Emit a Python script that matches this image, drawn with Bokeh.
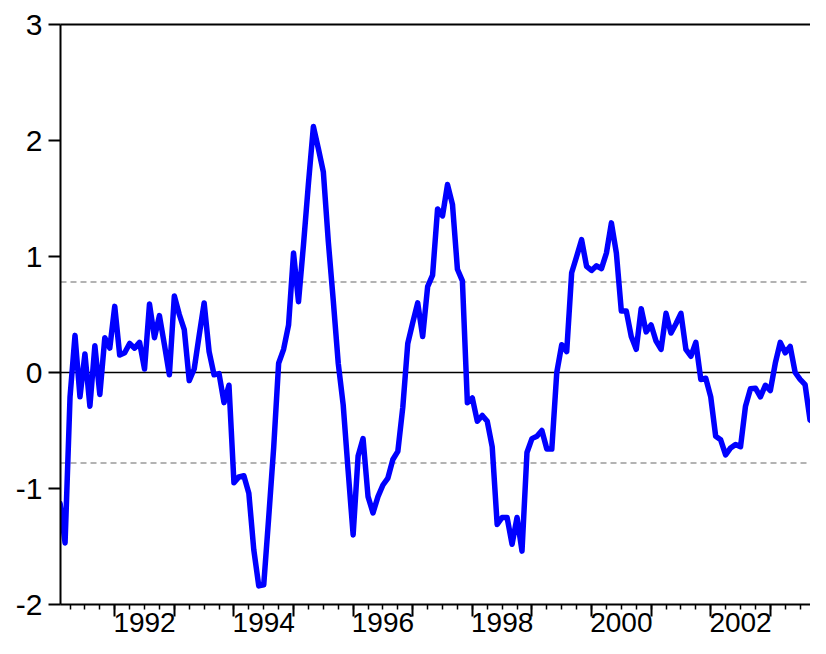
from bokeh.plotting import figure
from bokeh.models import LinearAxis, FixedTicker, Range1d, Span, CustomJSTickFormatter
from bokeh.embed import file_html
from bokeh.resources import INLINE

# monthly series, first observation Feb 1991
start_year = 1991
start_month = 2
values = [
    -1.13, -1.47, -0.21, 0.32, -0.21, 0.16, -0.29, 0.23, -0.19, 0.30,
    0.21, 0.57, 0.15, 0.17, 0.25, 0.21, 0.26, 0.03, 0.59, 0.30,
    0.49, 0.24, -0.02, 0.66, 0.50, 0.37, -0.07, 0.03, 0.32, 0.60,
    0.18, -0.02, -0.01, -0.26, -0.11, -0.95, -0.90, -0.89, -1.04, -1.53,
    -1.84, -1.83, -1.25, -0.65, 0.08, 0.20, 0.41, 1.03, 0.61, 1.10,
    1.63, 2.12, 1.93, 1.73, 1.13, 0.62, 0.08, -0.28, -0.85, -1.40,
    -0.72, -0.57, -1.07, -1.21, -1.07, -0.97, -0.91, -0.75, -0.68, -0.30,
    0.25, 0.43, 0.60, 0.31, 0.74, 0.84, 1.41, 1.35, 1.62, 1.45,
    0.89, 0.79, -0.26, -0.22, -0.42, -0.37, -0.42, -0.64, -1.31, -1.25,
    -1.25, -1.48, -1.25, -1.54, -0.69, -0.57, -0.55, -0.50, -0.66, -0.66,
    0.00, 0.24, 0.18, 0.86, 1.00, 1.145, 0.915, 0.88, 0.92, 0.895,
    1.03, 1.29, 1.03, 0.53, 0.53, 0.31, 0.20, 0.55, 0.35, 0.41,
    0.27, 0.20, 0.51, 0.34, 0.42, 0.51, 0.20, 0.14, 0.26, -0.06,
    -0.05, -0.21, -0.55, -0.58, -0.71, -0.65, -0.62, -0.64, -0.29, -0.14,
    -0.135, -0.21, -0.11, -0.155, 0.08, 0.26, 0.17, 0.225, 0.00, -0.06,
    -0.105, -0.41, -0.44, -0.28, -0.22, -0.55,
]
band = 0.78
label_years = [1992, 1994, 1996, 1998, 2000, 2002]
y_ticks = [-2, -1, 0, 1, 2, 3]

t = [start_year + (start_month - 1 + i) / 12 for i in range(len(values))]

font = "Liberation Sans"

p = figure(width=810, height=638, output_backend="svg", toolbar_location=None,
           x_range=Range1d(1991.09, 2003.674), y_range=Range1d(-2, 3),
           x_axis_type=None, y_axis_type=None,
           min_border_left=60, min_border_top=24, min_border_right=0, min_border_bottom=34)
p.outline_line_color = None
p.xgrid.visible = False
p.ygrid.visible = False
p.background_fill_color = "white"
p.border_fill_color = "white"

# y axis
yax = LinearAxis(ticker=FixedTicker(ticks=y_ticks),
                 formatter=CustomJSTickFormatter(code="return tick.toString()"),
                 major_tick_out=12, major_tick_in=0,
                 minor_tick_out=0, minor_tick_in=0, axis_line_width=2, major_tick_line_width=2,
                 major_label_standoff=6, major_label_text_font=font,
                 major_label_text_font_size="30px", major_label_text_color="black")
p.add_layout(yax, "left")

# x axis: year ticks and quarter minor ticks
years = list(range(1991, 2005))
quarters = [y + q / 4 for y in range(1991, 2005) for q in range(4)]
xticks = LinearAxis(ticker=FixedTicker(ticks=years, minor_ticks=quarters),
                    formatter=CustomJSTickFormatter(code="return ''"),
                    major_tick_out=12, major_tick_in=0, minor_tick_out=5, minor_tick_in=0,
                    axis_line_width=2, major_tick_line_width=2, minor_tick_line_width=1.5,
                    major_label_text_font_size="1px", major_label_standoff=0)
p.add_layout(xticks, "below")

# x axis labels centred in each labelled year
xlab = LinearAxis(ticker=FixedTicker(ticks=[y + 0.5 for y in label_years]),
                  formatter=CustomJSTickFormatter(code="return Math.floor(tick).toString()"),
                  axis_line_color=None, major_tick_line_color=None, minor_tick_line_color=None,
                  major_tick_out=0, major_tick_in=0, minor_tick_out=0, minor_tick_in=0,
                  major_label_standoff=-4, major_label_text_font=font,
                  major_label_text_font_size="28px", major_label_text_color="black")
p.add_layout(xlab, "below")

# top border
top = LinearAxis(ticker=FixedTicker(ticks=[]), axis_line_width=2,
                 major_tick_out=0, major_tick_in=0, minor_tick_out=0, minor_tick_in=0,
                 major_label_standoff=0)
p.add_layout(top, "above")

p.add_layout(Span(location=0, dimension="width", line_color="black", line_width=1.5, level="underlay"))
for b in (band, -band):
    p.add_layout(Span(location=b, dimension="width", line_color="#9a9a9a", line_width=1.3,
                      line_dash="6 4", level="underlay"))

p.line(t, values, line_color="#0000FF", line_width=5.5, line_join="round", line_cap="round")

open("out.html", "w").write(file_html(p, INLINE))
